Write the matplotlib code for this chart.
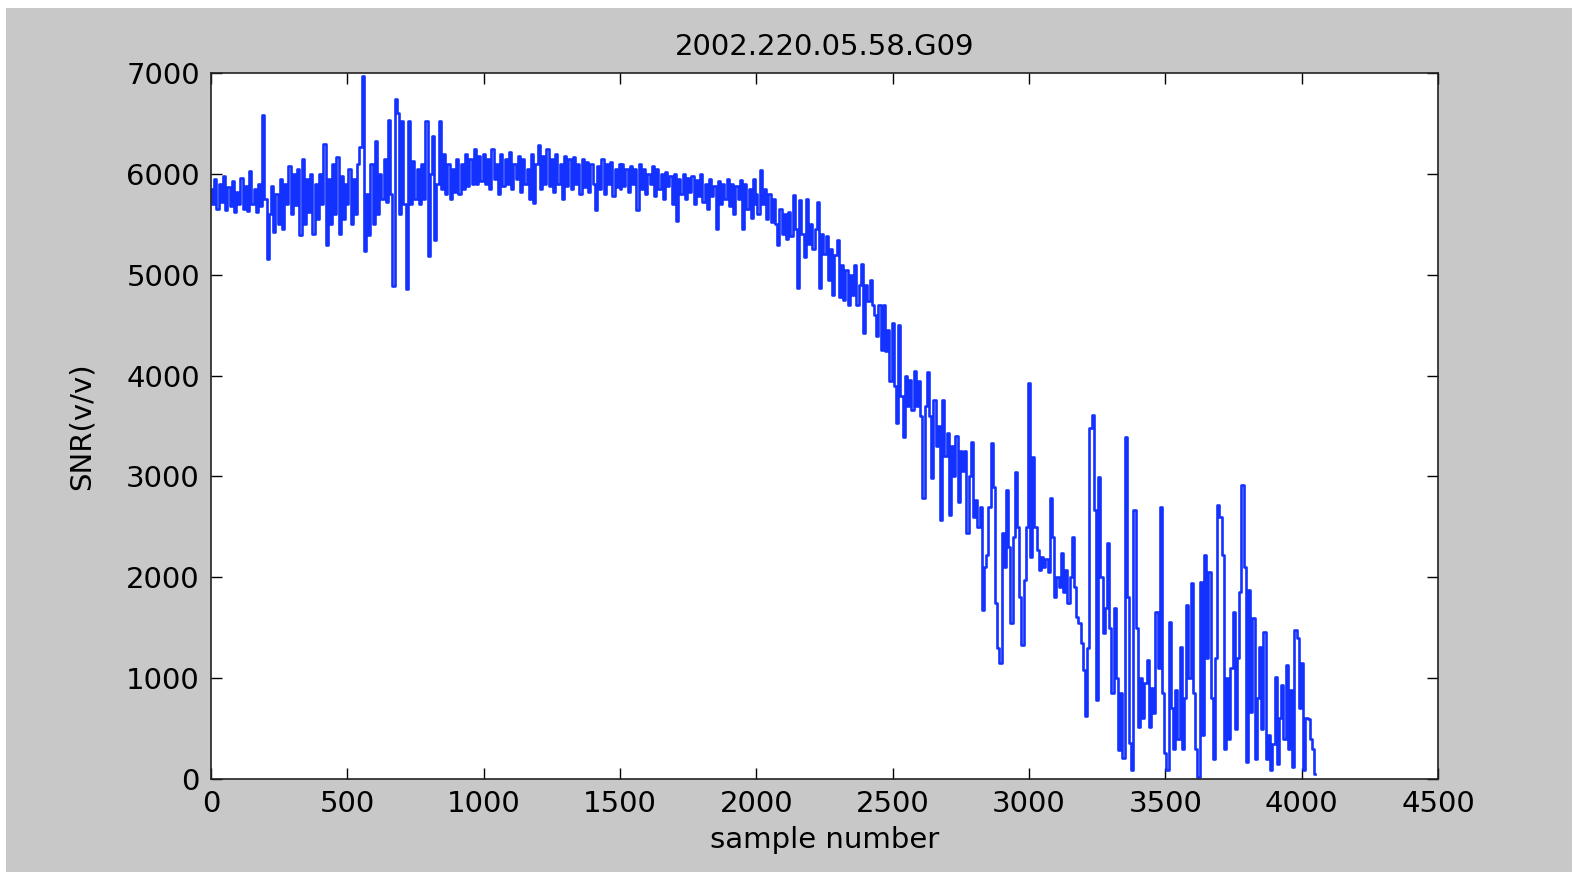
import numpy as np
import matplotlib
matplotlib.use("Agg")
import matplotlib.pyplot as plt
from matplotlib.patches import Rectangle

# SNR trace, in segments of ~8 samples spacing
# each segment: (first sample, last sample, values)
seg_a = [5850, 5700, 5950, 5650, 5900, 5720, 5980, 5640,
         5870, 5680, 5930, 5620, 5820, 5700, 5960, 5650,
         5880, 5630, 6030, 5700, 5850, 5620, 5900, 5680,
         6580, 5750, 5160, 5600, 5880, 5420, 5800, 5500,
         5950, 5450, 5900, 5700, 6080, 5600, 6000, 5690,
         6050, 5390, 6150, 5500, 5950, 5620, 6000, 5400,
         5900, 5550, 6000, 5700, 6300, 5290, 5950, 5500,
         6100, 5600, 6165, 5400, 5980, 5550, 5900]
seg_b = [5700, 6050, 5500, 5950, 5600, 6100, 6265, 6975,
         5240, 5800, 5390, 6100, 5500, 6330, 5600, 6000,
         5750, 6150, 5720, 6530, 5800, 4890, 6740, 6600,
         5600, 6520, 5700, 4860, 6520, 5700, 6130, 5750,
         6050, 5700, 6100, 5750, 6520, 5190, 6000, 6380,
         5340, 5900, 6520, 5850, 6200, 5800, 6100, 5750,
         6050, 5820, 6150, 5800, 6100, 5850, 6200, 5880,
         6150, 5900, 6250, 5900, 6180, 5930, 6200]
seg_c = [6200, 5900, 6150, 5850, 6250, 5950, 6100, 5800,
         6200, 5880, 6150, 5900, 6220, 5850, 6100, 5950,
         6180, 5820, 6150, 5900, 6050, 5750, 6200, 5710,
         6100, 6285, 5850, 6180, 5900, 6250, 5880, 6150,
         5820, 6200, 5900, 6100, 5750, 6180, 5880, 6150,
         5850, 6170, 5900, 6100, 5800, 6150, 5870, 6120,
         5820, 6100, 5900, 5640, 6080, 5850, 6150, 5800,
         6100, 5900, 6120, 5780, 6050, 5870, 6100]
seg_d = [5850, 6100, 5880, 6050, 5820, 6080, 5900, 6050,
         5640, 6100, 5850, 6050, 5800, 6000, 5900, 6080,
         5780, 6050, 5850, 6000, 5750, 6020, 5880, 5980,
         5700, 6000, 5530, 5950, 5800, 6000, 5750, 5960,
         5820, 5980, 5700, 5940, 5780, 6000, 5720, 5900,
         5650, 5950, 5780, 5880, 5450, 5930, 5700, 5900,
         5750, 5950, 5680, 5900, 5600, 5880, 5750, 5940,
         5450, 5900, 5650, 5850, 5560, 5950, 5700]
seg_e = [5800, 5600, 6038, 5700, 5850, 5550, 5800, 5520,
         5750, 5500, 5295, 5650, 5400, 5600, 5350, 5620,
         5380, 5790, 5450, 4865, 5740, 5400, 5180, 5755,
         5300, 5500, 5250, 5450, 5725, 4865, 5400, 5210,
         5380, 4950, 5250, 4800, 5200, 5340, 4780, 5100,
         4750, 5050, 4700, 5000, 4800, 5100, 4700, 4900,
         5110, 4420, 4900, 4740, 4950, 4700, 4600, 4390,
         4700, 4250, 4700, 4240, 4450, 3950, 4520]
seg_f = [4520, 3900, 3530, 4500, 3800, 3395, 4000, 3700,
         3955, 3660, 4050, 3700, 3950, 3600, 2783, 3700,
         4040, 3600, 2980, 3758, 3300, 3500, 2568, 3758,
         3200, 3430, 2618, 3300, 3000, 3400, 2750, 3250,
         3050, 3250, 2436, 3000, 3344, 2600, 2770, 2500,
         2700, 1675, 2100, 2222, 2700, 3328, 2900, 1742,
         1300, 1147, 2436, 2100, 2866, 2300, 1543, 2400,
         3047, 2500, 1800, 1329, 1973, 2500, 3924]
seg_g = [3924, 2204, 3196, 2500, 2271, 2072, 2205, 2100,
         2180, 2050, 2783, 2400, 1808, 2000, 1900, 2238,
         1850, 2072, 1742, 2000, 2403, 1900, 1610, 1543,
         1345, 1080, 620, 1300, 3477, 3609, 2667, 783,
         2997, 2000, 1445, 1700, 2337, 1500, 850, 1700,
         1000, 289, 850, 206, 3394, 1800, 355, 90,
         2667, 1500, 520, 1000, 600, 950, 1180, 520,
         900, 650, 1660, 1100, 2700, 850, 255]
seg_h = [255, 90, 1560, 700, 300, 880, 400, 1313,
         300, 800, 1726, 1000, 1940, 850, 300, 20,
         1957, 441, 2221, 1200, 2050, 800, 200, 1200,
         2717, 2600, 2221, 300, 1000, 400, 1100, 1660,
         500, 1200, 1850, 2915, 2100, 165, 1874, 660,
         1600, 200, 800, 1313, 500, 1460, 200, 440,
         90, 350, 1015, 150, 600, 930, 400, 1130,
         300, 882, 122, 1477, 1400, 700, 1150, 90,
         600, 595, 400, 300, 50]

segments = [(0, 496, seg_a), (500, 1000, seg_b), (1000, 1500, seg_c),
            (1500, 2000, seg_d), (2000, 2500, seg_e), (2500, 3000, seg_f),
            (3000, 3500, seg_g), (3500, 4050, seg_h)]

sample = np.concatenate([np.linspace(s0, s1, len(v)) for s0, s1, v in segments])
snr = np.concatenate([v for _, _, v in segments])

title = "2002.220.05.58.G09"
xticks = [0, 500, 1000, 1500, 2000, 2500, 3000, 3500, 4000, 4500]
yticks = [0, 1000, 2000, 3000, 4000, 5000, 6000, 7000]

###plot###
W, H = 1572, 872
fig = plt.figure(figsize=(W / 100, H / 100), dpi=100, facecolor="white")
# grey matlab figure background (thin white strip on top/left edge)
fig.patches.append(Rectangle((6 / W, 0), 1, 1 - 8 / H, transform=fig.transFigure,
                             facecolor="#c8c8c8", edgecolor="none", zorder=-10))

ax = fig.add_axes([211 / W, 1 - 779 / H, 1227 / W, 706 / H])
ax.set_facecolor("white")
ax.plot(sample, snr, color="#1432ff", lw=1.9, drawstyle="steps-mid")

ax.set_xlim(0, 4500)
ax.set_ylim(0, 7000)
ax.set_xticks(xticks)
ax.set_yticks(yticks)
ax.tick_params(direction="in", length=8, width=1, top=True, right=True,
               labelsize=21, pad=8, colors="black")
for s in ax.spines.values():
    s.set_linewidth(1.2)
    s.set_color("#222222")

ax.set_title(title, fontsize=21, pad=13)
ax.set_xlabel("sample number", fontsize=21, labelpad=6)
ax.set_ylabel("SNR(v/v)", fontsize=21, labelpad=22)

fig.savefig("out.png", dpi=100, facecolor=fig.get_facecolor())
